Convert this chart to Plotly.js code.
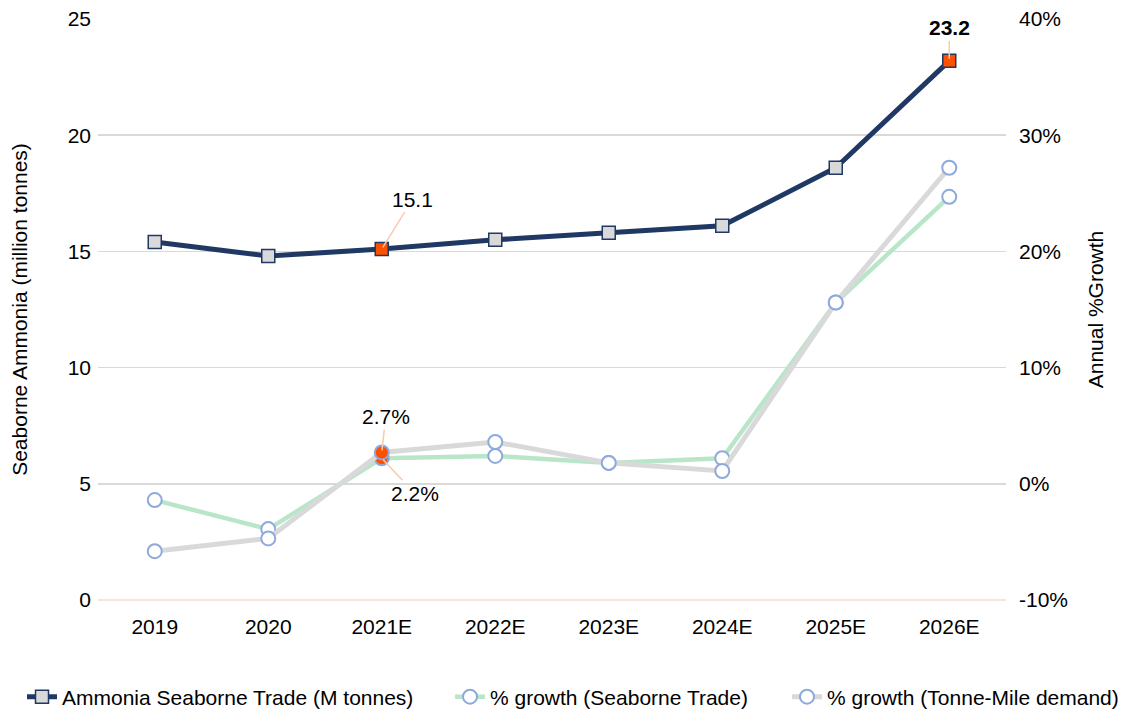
<!DOCTYPE html>
<html>
<head>
<meta charset="utf-8">
<script src="https://cdn.plot.ly/plotly-3.0.1.min.js"></script>
<style>
  html, body { margin: 0; padding: 0; background: #fff; }
  #chart { width: 1129px; height: 713px; }
</style>
</head>
<body>
<div id="chart"></div>
<script>
// Years shown along the x axis
const years = ['2019', '2020', '2021E', '2022E', '2023E', '2024E', '2025E', '2026E'];

// Seaborne ammonia trade, million tonnes
const tradeMt = [15.4, 14.8, 15.1, 15.5, 15.8, 16.1, 18.6, 23.2];

// Annual % growth of seaborne trade
const growthTrade = [-1.4, -3.9, 2.2, 2.4, 1.8, 2.2, 15.6, 24.7];

// Annual % growth of tonne-mile demand
const growthTonneMile = [-5.8, -4.7, 2.7, 3.6, 1.8, 1.1, 15.6, 27.2];

// Right-axis ticks (plain hyphen for the negative label)
const growthTickVals = [-10, 0, 10, 20, 30, 40];
const growthTickText = ['-10%', '0%', '10%', '20%', '30%', '40%'];

const NAVY = '#1F3864';
const HILITE = '#FF4F00';
const LEADER = '#F8CBAD';
const FONT = 'Liberation Sans, Arial, sans-serif';
const FS = 21;
const W = 1129, H = 713;

// Points that get the orange highlight
const tradeHighlight = ['2021E', '2026E'];
const growthHighlight = ['2021E'];

const tradeColors = years.map(y => tradeHighlight.includes(y) ? HILITE : '#D9D9D9');
const growthColors = years.map(y => growthHighlight.includes(y) ? HILITE : '#FFFFFF');

const traces = [
  {
    x: years, y: tradeMt, yaxis: 'y', type: 'scatter', mode: 'lines+markers',
    name: 'Ammonia Seaborne Trade (M tonnes)', legend: 'legend',
    line: { color: NAVY, width: 5 },
    marker: { symbol: 'square', size: 13, color: tradeColors, line: { color: NAVY, width: 1.5 } },
    cliponaxis: false
  },
  {
    x: years, y: growthTrade, yaxis: 'y2', type: 'scatter', mode: 'lines+markers',
    name: '% growth (Seaborne Trade)', legend: 'legend2',
    line: { color: '#B9E6C9', width: 4.5 },
    marker: { symbol: 'circle', size: 14, color: growthColors, line: { color: '#8EA9DB', width: 2 } },
    cliponaxis: false
  },
  {
    x: years, y: growthTonneMile, yaxis: 'y2', type: 'scatter', mode: 'lines+markers',
    name: '% growth (Tonne-Mile demand)', legend: 'legend3',
    line: { color: '#D9D9D9', width: 5 },
    marker: { symbol: 'circle', size: 14, color: growthColors, line: { color: '#8EA9DB', width: 2 } },
    cliponaxis: false
  }
];

const ann = (x, y, yref, text, ax, ay, bold) => ({
  x, y, xref: 'x', yref, text: bold ? '<b>' + text + '</b>' : text,
  showarrow: true, arrowhead: 0, arrowwidth: 1.5, arrowcolor: LEADER,
  ax, ay, standoff: 2, font: { family: FONT, size: FS, color: '#000' }
});

// One single-entry legend per series, laid out in a row under the chart
const legendAt = leftPx => ({
  orientation: 'h', xref: 'container', x: leftPx / W, xanchor: 'left',
  yref: 'container', y: 16 / H, yanchor: 'middle',
  font: { family: FONT, size: FS, color: '#000' }, itemwidth: 30,
  bgcolor: 'rgba(0,0,0,0)', borderwidth: 0
});

const layout = {
  width: W, height: H,
  margin: { l: 98, r: 123, t: 19, b: 113 },
  paper_bgcolor: '#fff', plot_bgcolor: '#fff',
  font: { family: FONT, size: FS, color: '#000' },
  showlegend: true,
  legend: legendAt(22),
  legend2: legendAt(450),
  legend3: legendAt(787),
  xaxis: {
    type: 'category', range: [-0.5, 7.5], showgrid: false, zeroline: false,
    showline: false, ticks: '', tickfont: { size: FS }, ticklabelstandoff: 12
  },
  yaxis: {
    range: [0, 25], dtick: 5, showgrid: true, gridcolor: '#D9D9D9', gridwidth: 1.5,
    zeroline: true, zerolinecolor: '#FCE4D6', zerolinewidth: 2,
    ticks: '', tickfont: { size: FS }, ticklabelstandoff: 6,
    title: { text: 'Seaborne Ammonia (million tonnes)', font: { size: FS }, standoff: 34 }
  },
  yaxis2: {
    overlaying: 'y', side: 'right', range: [-10, 40],
    tickmode: 'array', tickvals: growthTickVals, ticktext: growthTickText,
    showgrid: false, zeroline: false, ticks: '', tickfont: { size: FS }, ticklabelstandoff: 12,
    title: { text: 'Annual %Growth', font: { size: FS }, standoff: 21 }
  },
  annotations: [
    ann('2021E', 15.1, 'y', '15.1', 31, -50, false),
    ann('2026E', 23.2, 'y', '23.2', 0, -33, true),
    ann('2021E', 2.7, 'y2', '2.7%', 4, -36, false),
    ann('2021E', 2.2, 'y2', '2.2%', 33, 35, false)
  ]
};

Plotly.newPlot('chart', traces, layout, { displayModeBar: false, staticPlot: true });
</script>
</body>
</html>
